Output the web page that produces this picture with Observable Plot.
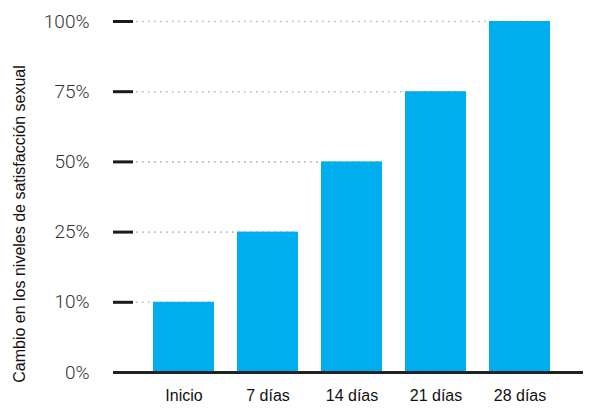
<!DOCTYPE html>
<html><head><meta charset="utf-8">
<script src="https://cdn.jsdelivr.net/npm/d3@7"></script>
<script src="https://cdn.jsdelivr.net/npm/@observablehq/plot@0.6"></script>
<style>body{margin:0;background:#fff}</style>
</head><body><div id="chart"></div>
<script>
const categories = ["Inicio", "7 días", "14 días", "21 días", "28 días"];
const values = [10, 25, 50, 75, 100];
const yTicks = [0, 10, 25, 50, 75, 100];
const tickLabels = ["0%", "10%", "25%", "50%", "75%", "100%"];
const yTitle = "Cambio en los niveles de satisfacción sexual";

const data = categories.map((c, i) => ({label: c, value: values[i]}));
// the axis places its ticks evenly, whatever their value
const pos = d3.scaleLinear(yTicks, d3.range(yTicks.length));

const chart = Plot.plot({
  width: 592, height: 418,
  marginTop: 21, marginBottom: 46, marginLeft: 113, marginRight: 9,
  style: {fontFamily: "'Liberation Sans', Arial, sans-serif", background: "#fff"},
  x: {domain: categories, range: [152, 550], paddingInner: 0.2755, paddingOuter: 0},
  y: {domain: [0, yTicks.length - 1]},
  marks: [
    Plot.ruleY(data, {y: d => pos(d.value), x1: () => categories[0], x2: "label", insetLeft: -17, stroke: "#b8b8b8", strokeWidth: 1.6, strokeDasharray: "1.6,4.4"}),
    Plot.barY(data, {x: "label", y: d => pos(d.value), fill: "#00aeef"}),
    Plot.tickY(yTicks, {y: d => pos(d), insetRight: 450, stroke: "#1a1a1a", strokeWidth: 3}),
    Plot.ruleY([0], {stroke: "#222", strokeWidth: 3}),
    Plot.axisY(yTicks.map(d => pos(d)), {tickSize: 0, tickPadding: 24, tickFormat: i => tickLabels[i], fontFamily: "Roboto", fontWeight: 300, fontSize: 19, fill: "#333", label: null}),
    Plot.axisX({tickSize: 0, tickPadding: 17, fontSize: 16, fill: "#111", label: null}),
    Plot.text([yTitle], {text: d => d, frameAnchor: "left", textAnchor: "middle", rotate: -90, dx: -94, dy: 27, fontSize: 16, fill: "#111"})
  ]
});
document.getElementById("chart").append(chart);
</script>
</body></html>
